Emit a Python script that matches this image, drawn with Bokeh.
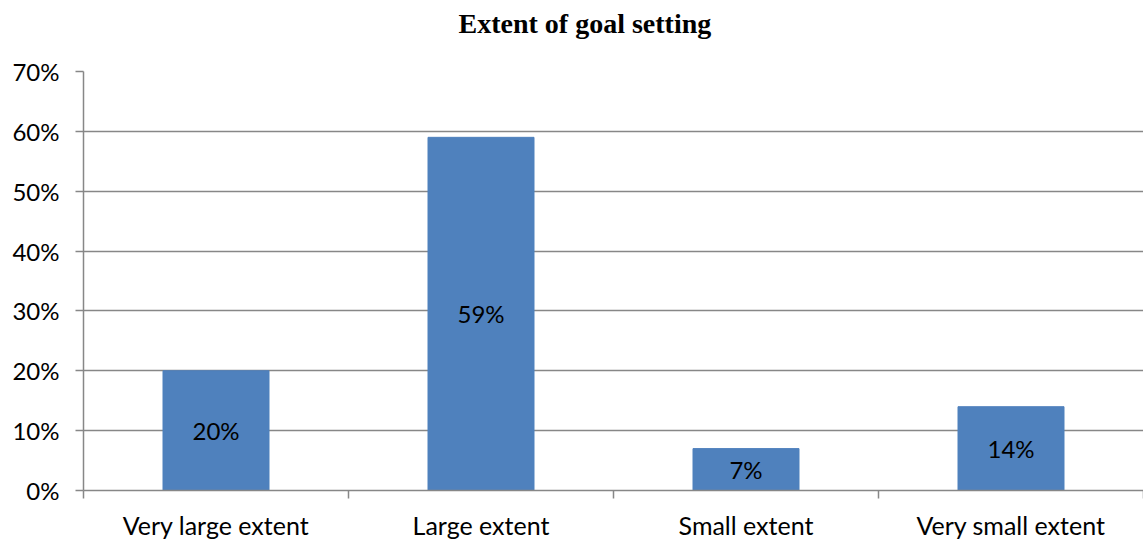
from bokeh.plotting import figure
from bokeh.models import FixedTicker, NumeralTickFormatter, Range1d, Title, ColumnDataSource
from bokeh.core.properties import value
from bokeh.embed import file_html
from bokeh.resources import INLINE

# Survey results: extent to which goals are set
categories = ["Very large extent", "Large extent", "Small extent", "Very small extent"]
shares = [0.20, 0.59, 0.07, 0.14]
share_labels = ["20%", "59%", "7%", "14%"]
y_ticks = [0.0, 0.1, 0.2, 0.3, 0.4, 0.5, 0.6, 0.7]

BAR_COLOR = "#4F81BD"
GRID_COLOR = "#878787"
LABEL_FONT = "Lato"

centers = [i + 0.5 for i in range(len(categories))]
source = ColumnDataSource(dict(
    x=centers,
    top=shares,
    mid=[s / 2 for s in shares],
    label=share_labels,
))

p = figure(
    width=1143, height=542,
    x_range=Range1d(0, len(categories)),
    y_range=Range1d(0, 0.7),
    output_backend="svg", toolbar_location=None,
    min_border_left=83, min_border_right=0,
    min_border_top=71, min_border_bottom=50,
    outline_line_color=None,
)

# heading; bottom padding lifts it towards the top of the page
title = Title(
    text="Extent of goal setting", align="left", offset=375,
    text_font="Liberation Serif", text_font_style="bold",
    text_font_size="28px", text_color="#000000", standoff=0,
    padding=dict(left=0, right=0, top=0, bottom=33),
)
p.add_layout(title, "above")

p.vbar(x="x", top="top", width=0.4, bottom=0, source=source,
       fill_color=BAR_COLOR, line_color=BAR_COLOR)

p.text(x="x", y="mid", text="label", source=source,
       text_align="center", text_baseline="middle",
       text_font=value(LABEL_FONT), text_font_size="24px", text_color="#000000")

# x axis: category names at bar centres, tick marks at category boundaries
xt = FixedTicker(ticks=centers, minor_ticks=list(range(len(categories) + 1)))
p.xaxis.ticker = xt
p.xaxis.major_label_overrides = {c: name for c, name in zip(centers, categories)}
p.xaxis.major_tick_out = 0
p.xaxis.major_tick_in = 0
p.xaxis.minor_tick_out = 8
p.xaxis.minor_tick_in = 0
p.xaxis.minor_tick_line_color = GRID_COLOR
p.xaxis.minor_tick_line_width = 1.5
p.xaxis.axis_line_color = GRID_COLOR
p.xaxis.axis_line_width = 1.5
p.xaxis.major_label_standoff = 11
p.xaxis.major_label_text_font = LABEL_FONT
p.xaxis.major_label_text_font_size = "25px"
p.xaxis.major_label_text_color = "#000000"

# y axis in percent
p.yaxis.ticker = FixedTicker(ticks=y_ticks)
p.yaxis.formatter = NumeralTickFormatter(format="0%")
p.yaxis.major_tick_out = 8
p.yaxis.major_tick_in = 0
p.yaxis.minor_tick_line_color = None
p.yaxis.major_tick_line_color = GRID_COLOR
p.yaxis.major_tick_line_width = 1.5
p.yaxis.axis_line_color = GRID_COLOR
p.yaxis.axis_line_width = 1.5
p.yaxis.major_label_standoff = 16
p.yaxis.major_label_text_font = LABEL_FONT
p.yaxis.major_label_text_font_size = "24px"
p.yaxis.major_label_text_color = "#000000"

p.xgrid.grid_line_color = None
p.ygrid.ticker = FixedTicker(ticks=y_ticks)
p.ygrid.grid_line_color = GRID_COLOR
p.ygrid.grid_line_width = 1.5

open("out.html", "w").write(file_html(p, INLINE))
